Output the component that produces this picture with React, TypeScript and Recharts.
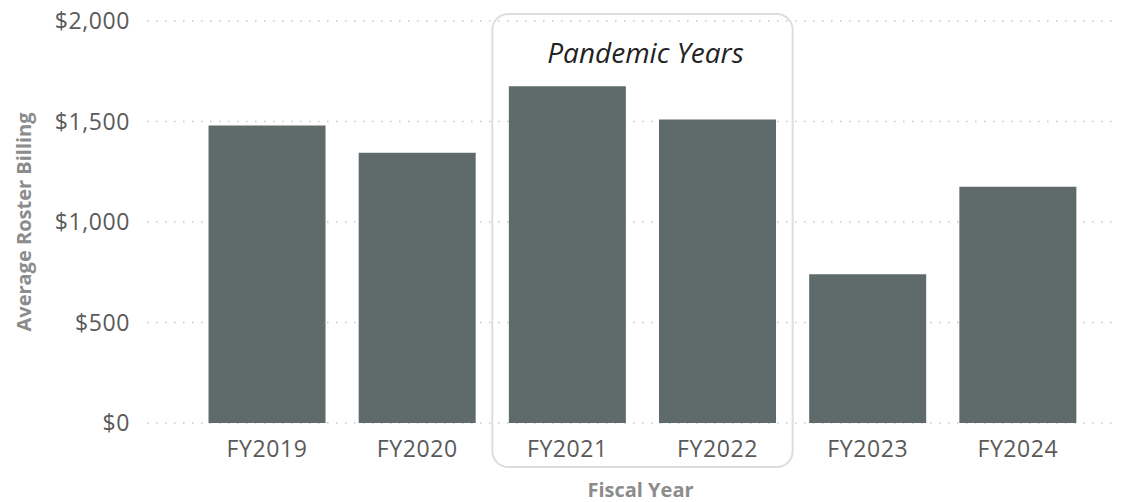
import React from 'react';
import {
  BarChart,
  Bar,
  XAxis,
  YAxis,
  CartesianGrid,
  ReferenceArea,
  Label,
} from 'recharts';

// Fiscal years and their average roster billing (USD)
const fiscalYears = ['FY2019', 'FY2020', 'FY2021', 'FY2022', 'FY2023', 'FY2024'];
const averageBilling = [1480, 1345, 1675, 1510, 740, 1175];
const yTicks = [0, 500, 1000, 1500, 2000];

// Highlighted span
const pandemicStart = 'FY2021';
const pandemicEnd = 'FY2022';
const pandemicLabel = 'Pandemic Years';
const pandemicBoxTop = 2035;
const pandemicBoxBottom = -219;

const data = fiscalYears.map((year, i) => ({ year, billing: averageBilling[i] }));

const FONT = '"Open Sans", "Noto Sans", sans-serif';
const BAR_COLOR = '#5f6a6b';
const TICK_STYLE = { fill: '#5a5a5a', fontSize: 23, fontFamily: FONT, letterSpacing: 0.6 };
const TITLE_STYLE = { fill: '#8c8c8c', fontSize: 20, fontWeight: 700, fontFamily: FONT };

const formatDollar = (v: number) => `$${v.toLocaleString('en-US')}`;

export default function App() {
  return (
    <div style={{ position: 'absolute', left: 0, top: 0 }}>
      <BarChart
        width={1128}
        height={502}
        data={data}
        margin={{ top: 21, right: 10, bottom: 0, left: 0 }}
        barCategoryGap="11%"
      >
        <CartesianGrid
          vertical={false}
          stroke="#c8c8c8"
          strokeWidth={1.5}
          strokeDasharray="1.5 7.5"
        />
        <XAxis
          dataKey="year"
          axisLine={false}
          tickLine={false}
          tickSize={0}
          tickMargin={18}
          height={79}
          padding={{ left: 45, right: 25 }}
          tick={TICK_STYLE}
          interval={0}
        >
          <Label
            value="Fiscal Year"
            position="insideBottom"
            offset={5}
            dx={8}
            style={TITLE_STYLE}
          />
        </XAxis>
        <YAxis
          domain={[0, 2000]}
          ticks={yTicks}
          tickFormatter={formatDollar}
          axisLine={false}
          tickLine={false}
          tickSize={0}
          tickMargin={17}
          width={147}
          tick={TICK_STYLE}
        >
          <Label
            value="Average Roster Billing"
            angle={-90}
            position="insideLeft"
            offset={24}
            style={{ ...TITLE_STYLE, textAnchor: 'middle' }}
          />
        </YAxis>
        <ReferenceArea
          x1={pandemicStart}
          x2={pandemicEnd}
          y1={pandemicBoxBottom}
          y2={pandemicBoxTop}
          ifOverflow="visible"
          fill="none"
          fillOpacity={0}
          stroke="#dddddd"
          strokeWidth={2}
          radius={16}
        >
          <Label
            value={pandemicLabel}
            position="insideTop"
            offset={29}
            dx={3}
            style={{
              fill: '#222222',
              fontSize: 28,
              fontStyle: 'italic',
              fontFamily: FONT,
            }}
          />
        </ReferenceArea>
        <Bar dataKey="billing" fill={BAR_COLOR} isAnimationActive={false} />
      </BarChart>
    </div>
  );
}
